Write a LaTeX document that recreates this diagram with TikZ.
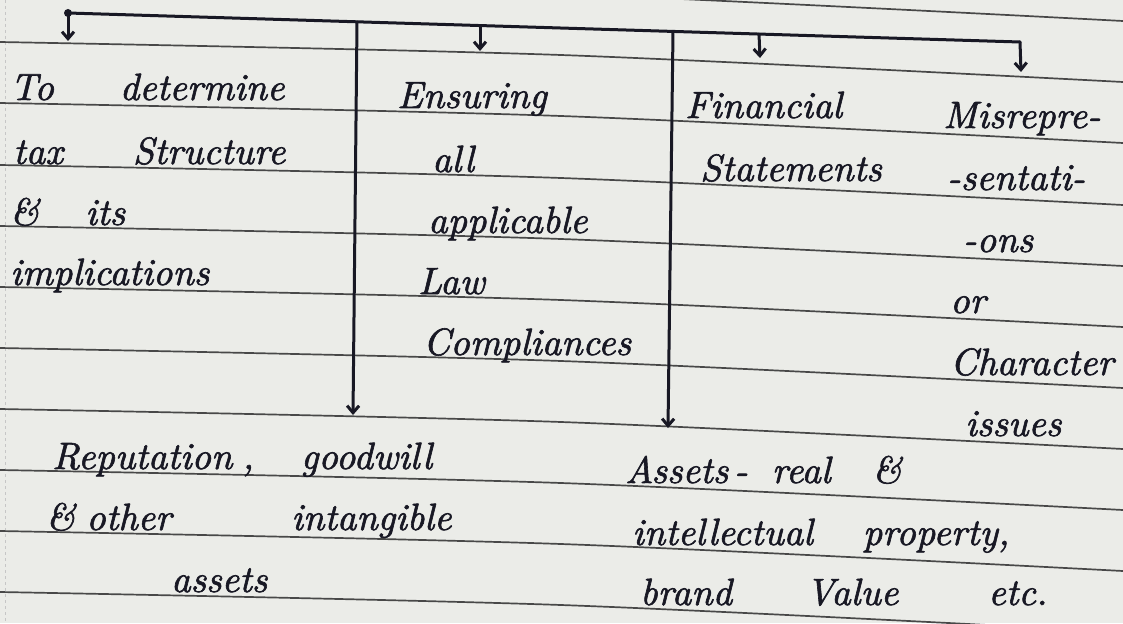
\documentclass[tikz,border=0pt]{standalone}
\usepackage{fontspec}
\usetikzlibrary{arrows.meta}
\newfontface\handit{lmroman10-italic.otf}[FakeBold=1.6]
\definecolor{paper}{RGB}{235,236,232}
\definecolor{rulecol}{RGB}{72,72,72}
\definecolor{ink}{RGB}{24,24,36}
\newcommand{\handfont}{\fontsize{38}{40}\selectfont\handit}
\begin{document}
\begin{tikzpicture}[x=1pt,y=-1pt,
  ruled/.style={draw=rulecol, line width=1.7pt},
  inkline/.style={draw=ink, line width=3pt, line cap=round, line join=round},
  inkarrow/.style={inkline, -{Straight Barb[length=7pt,width=12pt]}},
  txt/.style={anchor=base west, inner sep=0pt, text=ink, font=\handfont}]
\useasboundingbox (0,0) rectangle (1123,623);
\clip (0,0) rectangle (1123,623);
\fill[paper] (0,0) rectangle (1123,623);
% margin
\draw[gray!45, line width=1pt, dash pattern=on 3pt off 3pt] (5,0) -- (5,623);
% ruled lines
\foreach \y in {-19,42,103,165,226,287,348,409,470,531,592}
  \draw[ruled] plot[smooth] coordinates {(0,\y) (561,\y+13) (1123,\y+40)};
% bus line
\coordinate (bs) at (68,13);
\coordinate (be) at (1020,42);
\coordinate (jA) at (357,22);
\coordinate (j2) at (480,25.6);
\coordinate (jB) at (673,31.4);
\coordinate (j3) at (759,34);
\coordinate (tip1) at (68,41);
\coordinate (tipA) at (353,415);
\coordinate (tip2) at (480,51);
\coordinate (tipB) at (668,428);
\coordinate (tip3) at (760,58);
\coordinate (tip4) at (1021,72);
\draw[inkline] (bs) -- (be);
\fill[ink] (bs) circle (4pt);
\draw[inkarrow] (bs) -- (tip1);
\draw[inkarrow] (jA) -- (tipA);
\draw[inkarrow] (j2) -- (tip2);
\draw[inkarrow] (jB) -- (tipB);
\draw[inkarrow] (j3) -- (tip3);
\draw[inkarrow] (be) -- (tip4);
% column 1
\node[txt] (t1a) at (10,100) {To\hspace{66pt}determine};
\node[txt] (t1b) at (13,164) {tax\hspace{70pt}Structure};
\node[txt] (t1c) at (10,225) {\&\hspace{46pt}its};
\node[txt] (t1d) at (10,285) {implications};
% column 2
\node[txt] (t2a) at (397,108) {Ensuring};
\node[txt] (t2b) at (432,172) {all};
\node[txt] (t2c) at (428,233) {applicable};
\node[txt] (t2d) at (418,294) {Law};
\node[txt] (t2e) at (423,355) {Compliances};
% column 3
\node[txt] (t3a) at (685,118) {Financial};
\node[txt] (t3b) at (700,181) {Statements};
% column 4
\node[txt] (t4a) at (943,128) {Misrepre-};
\node[txt] (t4b) at (947,190) {-sentati-};
\node[txt] (t4c) at (963,252) {-ons};
\node[txt] (t4d) at (950,313) {or};
\node[txt] (t4e) at (950,375) {Character};
\node[txt] (t4f) at (965,436) {issues};
% bottom left
\node[txt] (b1a) at (52,469) {Reputation\hspace{10pt},\hspace{47pt}goodwill};
\node[txt] (b1b) at (46,530) {\&\hspace{11pt}other\hspace{120pt}intangible};
\node[txt] (b1c) at (171,592) {assets};
% bottom right
\node[txt] (b2a) at (625,483) {Assets\hspace{6pt}-\hspace{24pt}real\hspace{42pt}\&};
\node[txt] (b2b) at (632,545) {intellectual\hspace{50pt}property,};
\node[txt] (b2c) at (640,605) {brand\hspace{74pt}Value\hspace{90pt}etc.};
\end{tikzpicture}
\end{document}
